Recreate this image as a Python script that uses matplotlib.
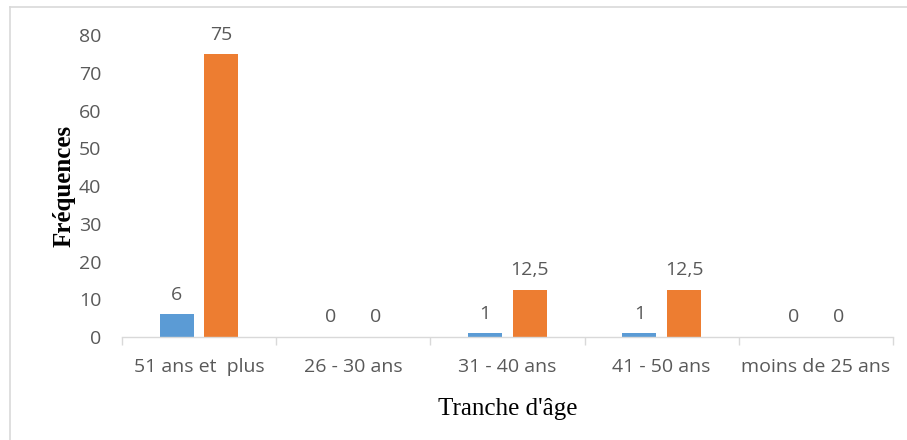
import numpy as np
import matplotlib
matplotlib.use("Agg")
import matplotlib.pyplot as plt
from matplotlib.lines import Line2D

# data
categories = ["51 ans et  plus", "26 - 30 ans", "31 - 40 ans", "41 - 50 ans", "moins de 25 ans"]
effectifs = [6, 0, 1, 1, 0]
pourcentages = [75, 0, 12.5, 12.5, 0]
labels_eff = ["6", "0", "1", "1", "0"]
labels_pct = ["75", "0", "12,5", "12,5", "0"]

blue = "#5B9BD5"
orange = "#ED7D31"
grey_txt = "#595959"

fig = plt.figure(figsize=(9.07, 4.4), dpi=100)
ax = fig.add_axes([0.1345, 0.234, 0.85, 0.686])

x = np.arange(len(categories))
w = 0.22
ax.bar(x - 0.145, effectifs, w, color=blue)
ax.bar(x + 0.145, pourcentages, w, color=orange)

# value labels above each bar
for i in range(len(categories)):
    ax.text(x[i] - 0.145, effectifs[i] + 2.8, labels_eff[i], ha="center", va="bottom",
            fontsize=14, color=grey_txt, family="Open Sans")
    ax.text(x[i] + 0.145, pourcentages[i] + 2.8, labels_pct[i], ha="center", va="bottom",
            fontsize=14, color=grey_txt, family="Open Sans")

ax.set_xlim(-0.5, len(categories) - 0.5)
ax.set_ylim(0, 80)
ax.set_yticks(range(0, 81, 10))
ax.set_xticks(x)
ax.set_xticklabels(categories)

# category boundary ticks below the axis
ax.set_xticks(np.arange(-0.5, len(categories), 1), minor=True)
ax.tick_params(axis="x", which="major", length=0, pad=15)
ax.tick_params(axis="x", which="minor", length=6, color="#D9D9D9", width=1)
ax.tick_params(axis="y", length=0, pad=15)
for lab in ax.get_xticklabels() + ax.get_yticklabels():
    lab.set_fontsize(14)
    lab.set_color(grey_txt)
    lab.set_family("Open Sans")

for s in ["top", "right", "left"]:
    ax.spines[s].set_visible(False)
ax.spines["bottom"].set_color("#D9D9D9")
ax.spines["bottom"].set_linewidth(1)

ax.set_ylabel("Fréquences", family="Liberation Serif", fontweight="bold", fontsize=18, labelpad=2)
ax.set_xlabel("Tranche d'âge", family="Liberation Serif", fontsize=18, labelpad=16)

# light frame on top and left of the picture
fig.add_artist(Line2D([10 / 907, 1], [1 - 7 / 440, 1 - 7 / 440], color="#D9D9D9", lw=1.2))
fig.add_artist(Line2D([10 / 907, 10 / 907], [0, 1 - 7 / 440], color="#D9D9D9", lw=1.2))

fig.savefig("out.png", dpi=100)
